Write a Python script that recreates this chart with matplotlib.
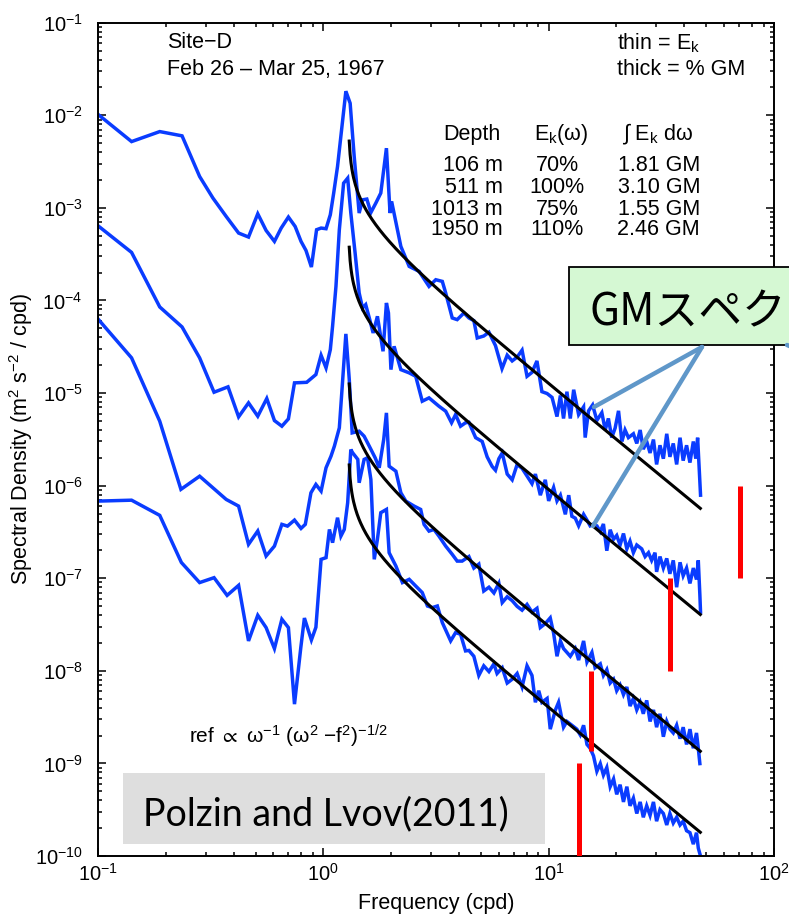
import numpy as np
import matplotlib
matplotlib.use("Agg")
import matplotlib.pyplot as plt
from matplotlib.patches import Rectangle
from matplotlib.lines import Line2D
from matplotlib.ticker import LogLocator, FuncFormatter, NullFormatter

plt.rcParams['font.family'] = ['Liberation Sans', 'DejaVu Sans']
plt.rcParams['mathtext.fontset'] = 'custom'
plt.rcParams['mathtext.rm'] = 'Liberation Sans'
plt.rcParams['mathtext.it'] = 'Liberation Sans:italic'
plt.rcParams['mathtext.bf'] = 'Liberation Sans:bold'
plt.rcParams['mathtext.sf'] = 'Liberation Sans'
plt.rcParams['mathtext.fallback'] = 'stixsans'

# ---------------- data (log10 of frequency [cpd] and spectral density) ----------------
s106_logf = [-1.000, -0.851, -0.726, -0.627, -0.549, -0.490, -0.431, -0.376, -0.332, -0.291,
             -0.254, -0.217, -0.187, -0.155, -0.125, -0.099, -0.077, -0.053, -0.030, -0.010,
             0.012, 0.031, 0.046, 0.063, 0.081, 0.100, 0.119, 0.137, 0.159, 0.174,
             0.193, 0.211, 0.233, 0.255, 0.280, 0.296, 0.303, 0.344, 0.381, 0.425,
             0.469, 0.499, 0.528, 0.543, 0.572, 0.594, 0.624, 0.646, 0.668, 0.683,
             0.712, 0.735, 0.764, 0.793, 0.816, 0.838, 0.860, 0.882, 0.904, 0.926,
             0.948, 0.970, 0.993, 1.015, 1.037, 1.052, 1.066, 1.081, 1.096, 1.111,
             1.133, 1.155, 1.162, 1.177, 1.195, 1.214, 1.236, 1.251, 1.265, 1.280,
             1.295, 1.310, 1.325, 1.339, 1.354, 1.376, 1.391, 1.406, 1.420, 1.435,
             1.450, 1.465, 1.479, 1.494, 1.509, 1.524, 1.538, 1.553, 1.568, 1.583,
             1.597, 1.612, 1.627, 1.642, 1.653, 1.661, 1.668, 1.674]
s106_logS = [-1.990, -2.284, -2.176, -2.222, -2.661, -2.894, -3.093, -3.272, -3.315, -3.064,
             -3.244, -3.362, -3.218, -3.099, -3.201, -3.362, -3.460, -3.639, -3.236, -3.218,
             -3.225, -3.074, -2.840, -2.553, -2.157, -1.740, -1.870, -2.446, -3.056, -2.913,
             -2.905, -3.050, -2.948, -2.840, -2.355, -3.056, -2.930, -3.416, -3.632, -3.686,
             -3.848, -3.776, -3.794, -3.919, -4.189, -4.207, -4.135, -4.189, -4.218, -4.405,
             -4.384, -4.343, -4.488, -4.736, -4.591, -4.653, -4.612, -4.537, -4.819, -4.777,
             -4.653, -4.985, -5.005, -5.047, -5.254, -5.026, -5.275, -4.985, -5.275, -4.964,
             -5.233, -5.150, -5.481, -5.192, -5.129, -5.295, -5.212, -5.399, -5.274, -5.481,
             -5.378, -5.192, -5.523, -5.399, -5.481, -5.440, -5.544, -5.399, -5.606, -5.523,
             -5.647, -5.502, -5.771, -5.564, -5.709, -5.440, -5.689, -5.544, -5.771, -5.482,
             -5.730, -5.564, -5.751, -5.523, -5.709, -5.482, -5.813, -6.103]

s511_logf = [-1.000, -0.851, -0.726, -0.627, -0.549, -0.485, -0.423, -0.376, -0.332, -0.291,
             -0.251, -0.217, -0.184, -0.155, -0.128, -0.074, -0.033, -0.010, 0.012, 0.031,
             0.041, 0.056, 0.071, 0.090, 0.108, 0.122, 0.141, 0.159, 0.174, 0.188,
             0.206, 0.221, 0.240, 0.265, 0.280, 0.289, 0.300, 0.314, 0.344, 0.381,
             0.410, 0.439, 0.469, 0.513, 0.543, 0.569, 0.587, 0.609, 0.631,
             0.646, 0.676, 0.705, 0.727, 0.749, 0.764, 0.779, 0.794, 0.816, 0.838,
             0.860, 0.882, 0.904, 0.926, 0.941, 0.963, 0.985, 1.000, 1.022, 1.037,
             1.052, 1.074, 1.089, 1.103, 1.118, 1.133, 1.155, 1.170, 1.184, 1.199,
             1.214, 1.229, 1.243, 1.258, 1.273, 1.288, 1.302, 1.317, 1.332, 1.347,
             1.361, 1.376, 1.391, 1.413, 1.428, 1.443, 1.457, 1.472, 1.479, 1.494,
             1.509, 1.524, 1.538, 1.553, 1.568, 1.583, 1.597, 1.612, 1.627, 1.642,
             1.656, 1.664, 1.671, 1.674]
s511_logS = [-3.193, -3.481, -4.070, -4.286, -4.620, -4.991, -4.933, -5.257, -5.106, -5.250,
             -5.059, -5.297, -5.358, -5.279, -4.890, -4.884, -4.800, -4.592, -4.728, -4.531,
             -4.279, -3.848, -3.236, -2.733, -2.679, -3.056, -3.488, -3.919, -4.081, -4.045,
             -4.207, -4.351, -4.171, -4.549, -4.027, -4.135, -4.747, -4.495, -4.747, -4.782,
             -4.819, -5.088, -5.052, -5.142, -5.196, -5.321, -5.232, -5.358, -5.321,
             -5.316, -5.482, -5.523, -5.689, -5.792, -5.834, -5.709, -5.647, -5.875, -5.937,
             -5.772, -5.813, -5.896, -5.979, -5.875, -6.103, -5.937, -6.165, -6.020, -6.165,
             -6.103, -6.310, -6.103, -6.331, -6.351, -6.434, -6.310, -6.372, -6.434, -6.414,
             -6.434, -6.496, -6.414, -6.703, -6.476, -6.579, -6.538, -6.641, -6.517, -6.683,
             -6.600, -6.724, -6.641, -6.683, -6.766, -6.724, -6.807, -6.724, -6.931, -6.766,
             -6.890, -6.786, -6.952, -6.807, -7.097, -6.828, -6.973, -6.890, -7.056, -6.890,
             -7.014, -6.807, -7.180, -7.366]

s1013_logf = [-1.000, -0.851, -0.726, -0.632, -0.549, -0.431, -0.376, -0.332, -0.291, -0.254,
              -0.217, -0.184, -0.159, -0.128, -0.099, -0.080, -0.055, -0.033, -0.010, 0.012,
              0.034, 0.049, 0.071, 0.085, 0.100, 0.115, 0.128, 0.159, 0.181, 0.204,
              0.230, 0.248, 0.268, 0.280, 0.292, 0.322, 0.344, 0.366, 0.403, 0.432,
              0.447, 0.469, 0.491, 0.513, 0.543, 0.572, 0.594, 0.616,
              0.646, 0.668, 0.690, 0.712, 0.735, 0.757, 0.779, 0.794, 0.816, 0.838,
              0.860, 0.882, 0.904, 0.926, 0.948, 0.963, 0.985, 1.007, 1.022, 1.037,
              1.052, 1.066, 1.081, 1.096, 1.118, 1.133, 1.155, 1.170, 1.192, 1.206,
              1.229, 1.243, 1.258, 1.273, 1.288, 1.302, 1.317, 1.332, 1.347, 1.361,
              1.376, 1.391, 1.406, 1.420, 1.435, 1.450, 1.465, 1.479, 1.494, 1.509,
              1.524, 1.538, 1.553, 1.568, 1.583, 1.597, 1.612, 1.627, 1.642, 1.656,
              1.664, 1.671]
s1013_logS = [-4.200, -4.620, -5.304, -6.040, -5.898, -6.149, -6.221, -6.634, -6.490, -6.760,
              -6.653, -6.418, -6.437, -6.372, -6.462, -6.418, -6.077, -5.987, -6.059, -5.807,
              -5.682, -5.574, -5.376, -4.887, -4.361, -4.850, -5.430, -5.412, -5.466, -5.574,
              -5.699, -5.807, -5.500, -5.214, -5.790, -5.844, -6.077, -6.167, -6.221, -6.257,
              -6.419, -6.491, -6.473, -6.545, -6.653, -6.742, -6.815, -6.815,
              -6.766, -6.890, -6.848, -7.138, -7.097, -7.159, -7.055, -7.263, -7.200, -7.242,
              -7.304, -7.345, -7.283, -7.366, -7.325, -7.532, -7.490, -7.428, -7.594, -7.843,
              -7.677, -7.760, -7.801, -7.843, -7.760, -7.884, -7.677, -7.905, -7.801, -7.967,
              -7.925, -8.050, -7.987, -8.132, -8.091, -8.215, -8.153, -8.257, -8.174, -8.381,
              -8.298, -8.422, -8.340, -8.464, -8.319, -8.547, -8.422, -8.609, -8.464, -8.712,
              -8.547, -8.630, -8.671, -8.588, -8.733, -8.609, -8.795, -8.630, -8.836, -8.671,
              -8.836, -9.002]

s1950_logf = [-1.000, -0.851, -0.726, -0.630, -0.549, -0.485, -0.427, -0.376, -0.332, -0.291,
              -0.254, -0.217, -0.184, -0.155, -0.128, -0.100, -0.084, -0.053, -0.033, -0.010,
              0.012, 0.027, 0.041, 0.063, 0.078, 0.093, 0.108, 0.122, 0.130, 0.153,
              0.159, 0.181, 0.196, 0.211, 0.226, 0.240, 0.255, 0.280, 0.292, 0.322,
              0.351, 0.381, 0.410, 0.439, 0.462, 0.484, 0.506, 0.528, 0.565, 0.587,
              0.609, 0.631,
              0.646, 0.668, 0.690, 0.712, 0.735, 0.757, 0.771, 0.794, 0.816, 0.838,
              0.860, 0.882, 0.904, 0.926, 0.941, 0.956, 0.970, 0.993, 1.007, 1.030,
              1.044, 1.066, 1.081, 1.103, 1.125, 1.140, 1.155, 1.170, 1.184, 1.199,
              1.214, 1.229, 1.243, 1.258, 1.273, 1.288, 1.302, 1.317, 1.332, 1.347,
              1.361, 1.376, 1.391, 1.406, 1.420, 1.435, 1.450, 1.465, 1.479, 1.494,
              1.509, 1.524, 1.538, 1.553, 1.568, 1.583, 1.597, 1.612, 1.627, 1.642,
              1.656, 1.664, 1.671]
s1950_logS = [-6.167, -6.157, -6.321, -6.830, -7.047, -6.994, -7.185, -7.077, -7.677, -7.400,
              -7.533, -7.760, -7.443, -7.533, -8.360, -7.749, -7.430, -7.667, -7.530, -6.796,
              -6.778, -6.473, -6.616, -6.346, -6.545, -6.473, -6.185, -5.610, -5.645, -5.717,
              -5.969, -5.717, -5.699, -5.933, -6.796, -6.580, -6.292, -6.257, -6.724, -6.868,
              -7.047, -7.012, -7.084, -7.155, -7.300, -7.317, -7.300, -7.479, -7.677, -7.587,
              -7.605, -7.785,
              -7.780, -7.843, -8.050, -7.946, -8.008, -7.925, -8.029, -7.967, -8.132, -8.091,
              -8.029, -8.174, -7.946, -8.050, -8.340, -8.215, -8.340, -8.298, -8.630, -8.422,
              -8.340, -8.609, -8.547, -8.588, -8.630, -8.692, -8.588, -8.795, -8.836, -8.919,
              -9.085, -9.002, -9.126, -9.044, -9.251, -9.168, -9.334, -9.230, -9.416, -9.251,
              -9.458, -9.375, -9.541, -9.416, -9.582, -9.458, -9.561, -9.416, -9.624, -9.499,
              -9.541, -9.665, -9.541, -9.644, -9.582, -9.665, -9.624, -9.727, -9.748, -9.872,
              -9.748, -9.914, -9.976]

# GM reference:  ref ∝ ω^-1 (ω^2 - f^2)^-1/2
gm_inertial_f = 1.29          # cpd
gm_freq_range = [1.303, 47.1]  # cpd
gm_amplitudes = [1.26e-3, 9.0e-5, 3.0e-6, 4.0e-7]

# red vertical bars
red_freq = [71.0, 34.6, 15.4, 13.6]
red_low = [1e-7, 1e-8, 1.37e-9, 1e-10]
red_high = [1e-6, 1e-7, 1e-8, 1e-9]

depths = ["106 m", "511 m", "1013 m", "1950 m"]
ek_pct = ["70%", "100%", "75%", "110%"]
int_gm = ["1.81 GM", "3.10 GM", "1.55 GM", "2.46 GM"]

# ---------------- figure ----------------
W, H = 789, 917
fig = plt.figure(figsize=(W / 100, H / 100), dpi=100)
fig.patch.set_facecolor('white')


def fx(px):
    return px / W


def fy(py):
    return 1 - py / H


L, R, T, B = 98, 774, 22.7, 856
ax = fig.add_axes([fx(L), fy(B), (R - L) / W, (B - T) / H])
ax.set_xscale('log')
ax.set_yscale('log')
ax.set_xlim(0.1, 100)
ax.set_ylim(1e-10, 1e-1)

blue = '#0a3cff'
for lf, ls in [(s106_logf, s106_logS), (s511_logf, s511_logS),
               (s1013_logf, s1013_logS), (s1950_logf, s1950_logS)]:
    n = min(len(lf), len(ls))
    ax.plot(10 ** np.array(lf[:n]), 10 ** np.array(ls[:n]), color=blue, lw=2.5,
            solid_joinstyle='miter', zorder=2)

w = np.logspace(np.log10(gm_freq_range[0]), np.log10(gm_freq_range[1]), 400)
ref = 1.0 / (w * np.sqrt(w ** 2 - gm_inertial_f ** 2))
for A in gm_amplitudes:
    ax.plot(w, A * ref, color='black', lw=2.2, zorder=3)

for xr, lo, hi in zip(red_freq, red_low, red_high):
    ax.plot([xr, xr], [lo, hi], color='#ff0000', lw=3.6, solid_capstyle='butt', zorder=4)

ax.xaxis.set_major_locator(LogLocator(base=10, numticks=10))
ax.yaxis.set_major_locator(LogLocator(base=10, numticks=20))
ax.xaxis.set_minor_locator(LogLocator(base=10, subs=np.arange(2, 10), numticks=20))
ax.yaxis.set_minor_locator(LogLocator(base=10, subs=np.arange(2, 10), numticks=20))
fmt = FuncFormatter(lambda v, p: r'$\mathdefault{10^{%d}}$' % int(round(np.log10(v))))
ax.xaxis.set_major_formatter(fmt)
ax.yaxis.set_major_formatter(fmt)
ax.xaxis.set_minor_formatter(NullFormatter())
ax.yaxis.set_minor_formatter(NullFormatter())
ax.tick_params(which='both', direction='in', top=True, right=True, width=1.1, colors='black')
ax.tick_params(which='major', length=5.5, labelsize=14.5)
ax.tick_params(axis='x', which='major', pad=5)
ax.tick_params(axis='y', which='major', pad=11)
ax.tick_params(which='minor', length=3)
for s in ax.spines.values():
    s.set_linewidth(1.4)

ax.set_xlabel('Frequency (cpd)', fontsize=15.5)
ax.xaxis.set_label_coords(0.5, -0.045)
ax.xaxis.label.set_va('top')
ax.set_ylabel('Spectral Density (m$^2$ s$^{-2}$ / cpd)', fontsize=15.5)
ax.yaxis.set_label_coords(-0.093, 0.5)

fs = 15.5
fig.text(fx(167), fy(48), 'Site−D', fontsize=fs, va='baseline', ha='left')
fig.text(fx(167), fy(75), 'Feb 26 – Mar 25, 1967', fontsize=fs, va='baseline', ha='left')
fig.text(fx(617), fy(49), r'thin = E$_\mathrm{k}$', fontsize=fs, va='baseline', ha='left')
fig.text(fx(617), fy(75), 'thick = % GM', fontsize=fs, va='baseline', ha='left')

fig.text(fx(443), fy(140), 'Depth', fontsize=fs, va='baseline', ha='left')
fig.text(fx(534), fy(140), r'E$_\mathrm{k}$(ω)', fontsize=fs, va='baseline', ha='left')
fig.text(fx(622), fy(140), r'∫ E$_\mathrm{k}$ dω', fontsize=fs, va='baseline', ha='left')
row_base = [170.7, 192.7, 215, 235]
for yb, d, p, g in zip(row_base, depths, ek_pct, int_gm):
    fig.text(fx(503), fy(yb), d, fontsize=fs, va='baseline', ha='right')
    fig.text(fx(557), fy(yb), p, fontsize=fs, va='baseline', ha='center')
    fig.text(fx(700), fy(yb), g, fontsize=fs, va='baseline', ha='right')

fig.text(fx(189), fy(743), r'ref $\propto$ ω$^{-1}$ (ω$^2$ −f$^2$)$^{-1/2}$', fontsize=15,
         va='baseline', ha='left')

# grey citation box
fig.add_artist(Rectangle((fx(123), fy(844)), fx(545) - fx(123), fy(773) - fy(844),
                         transform=fig.transFigure, facecolor='#dedede', edgecolor='none',
                         zorder=10))
fig.text(fx(143), fy(825), 'Polzin and Lvov(2011)', fontsize=27, family='Lato',
         va='baseline', ha='left', zorder=11)

# GM spectrum callout
fig.add_artist(Rectangle((fx(569), fy(345)), fx(800) - fx(569), fy(267) - fy(345),
                         transform=fig.transFigure, facecolor='#d5f8d3', edgecolor='black',
                         lw=1.3, zorder=10))
fig.text(fx(589), fy(325), 'GMスペク', fontsize=31.5, family=['Noto Sans CJK JP', 'DejaVu Sans'],
         va='baseline', ha='left', zorder=11)
cl = '#5f97c9'
for (x0, y0, x1, y1) in [(702, 347, 594, 407), (702, 347, 593, 526), (787, 345, 792, 347)]:
    fig.add_artist(Line2D([fx(x0), fx(x1)], [fy(y0), fy(y1)], transform=fig.transFigure,
                          color=cl, lw=3.2, solid_capstyle='round', zorder=12))

fig.savefig('out.png', dpi=100)
